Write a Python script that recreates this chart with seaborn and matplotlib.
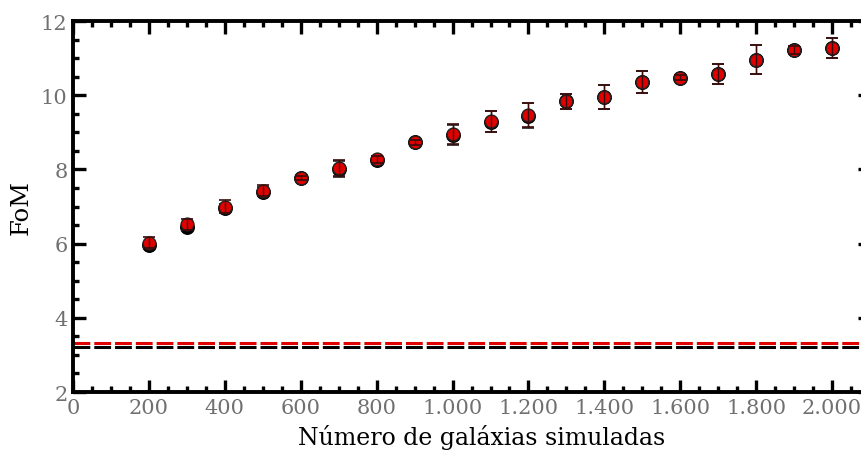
import matplotlib
matplotlib.use("Agg")
import matplotlib.pyplot as plt
import seaborn as sns
import pandas as pd
from matplotlib.ticker import MultipleLocator, FuncFormatter

# values
n_gal = [200, 300, 400, 500, 600, 700, 800, 900, 1000, 1100,
         1200, 1300, 1400, 1500, 1600, 1700, 1800, 1900, 2000]
fom_red = [6.02, 6.52, 7.00, 7.42, 7.77, 8.04, 8.27, 8.73, 8.95, 9.30,
           9.46, 9.84, 9.95, 10.36, 10.47, 10.57, 10.96, 11.22, 11.27]
err_red = [0.15, 0.15, 0.17, 0.15, 0.06, 0.22, 0.10, 0.07, 0.27, 0.28,
           0.33, 0.20, 0.33, 0.30, 0.07, 0.28, 0.40, 0.10, 0.27]
fom_black = [5.96, 6.46, 6.95, 7.40, 7.76, 8.02, 8.25, 8.73, 8.94, 9.29,
             9.45, 9.84, 9.95, 10.35, 10.47, 10.57, 10.96, 11.22, 11.27]
err_black = [0.08, 0.10, 0.12, 0.12, 0.06, 0.22, 0.10, 0.07, 0.27, 0.28,
             0.33, 0.20, 0.33, 0.30, 0.07, 0.28, 0.40, 0.10, 0.27]
ref_red = 3.31
ref_black = 3.20

df = pd.DataFrame({"n": n_gal, "red": fom_red, "black": fom_black})

sns.set_style("ticks")
plt.rcParams["font.family"] = ["DejaVu Serif"]

fig = plt.figure(figsize=(8.61, 4.52), dpi=100)
ax = fig.add_axes([0.0848, 0.1305, 0.9257, 0.8208])

ax.axhline(ref_red, color="#e00000", lw=2.2, ls=(0, (5.5, 1.3)), zorder=1)
ax.axhline(ref_black, color="black", lw=2.2, ls=(0, (5.5, 1.3)), zorder=1)

sns.scatterplot(data=df, x="n", y="black", ax=ax, color="black", s=95,
                edgecolor="black", linewidth=1, zorder=3)
ax.errorbar(n_gal, fom_black, yerr=err_black, fmt="none", ecolor="#222222",
            elinewidth=1.0, capsize=4, capthick=1.2, zorder=4)
sns.scatterplot(data=df, x="n", y="red", ax=ax, color="#e00000", s=85,
                edgecolor="#222222", linewidth=1, zorder=5)
ax.errorbar(n_gal, fom_red, yerr=err_red, fmt="none", ecolor="#3a0a0a",
            elinewidth=1.0, capsize=4, capthick=1.2, zorder=6)

ax.set_xlim(0, 2100)
ax.set_ylim(2, 12)
ax.xaxis.set_major_locator(MultipleLocator(200))
ax.xaxis.set_minor_locator(MultipleLocator(50))
ax.yaxis.set_major_locator(MultipleLocator(2))
ax.yaxis.set_minor_locator(MultipleLocator(0.5))
ax.xaxis.set_major_formatter(FuncFormatter(lambda v, p: f"{v:,.0f}".replace(",", ".")))

ax.tick_params(which="both", direction="in", top=True, right=True, width=2.4,
               colors="black", labelcolor="#707070", labelsize=15, pad=4)
ax.tick_params(which="major", length=9)
ax.tick_params(which="minor", length=4.5)
for sp in ax.spines.values():
    sp.set_linewidth(2.8)
    sp.set_color("black")

ax.set_xlabel("Número de galáxias simuladas", fontsize=17, color="black", labelpad=6)
ax.xaxis.set_label_coords(0.513, -0.085, transform=ax.transAxes)
ax.xaxis.label.set_va("top")
ax.set_ylabel("FoM", fontsize=17.5, color="black", labelpad=6)

fig.savefig("out.png", dpi=100)
